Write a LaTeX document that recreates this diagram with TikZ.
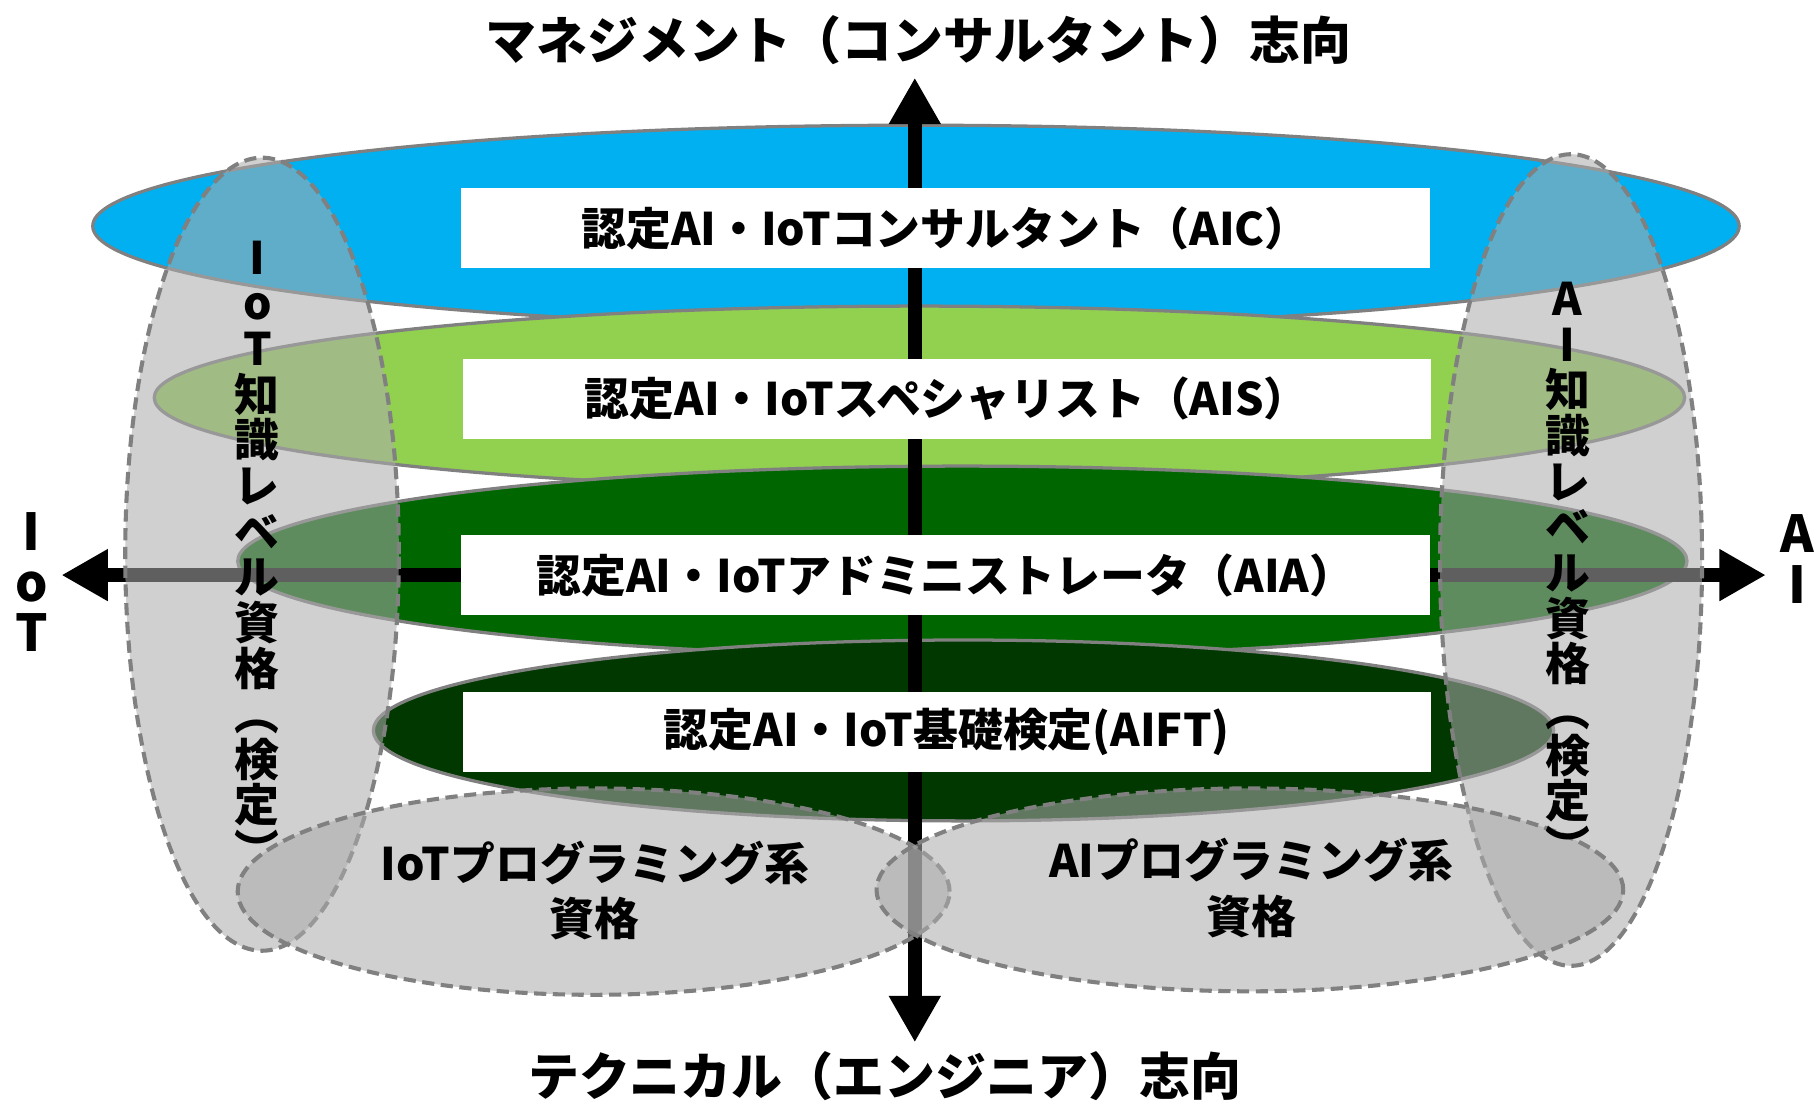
\documentclass[tikz,border=0pt]{standalone}
\usepackage{fontspec}
\setmainfont{Noto Sans CJK JP}
\usepackage{tikz}
\usetikzlibrary{arrows.meta}
\definecolor{aicblue}{RGB}{0,176,240}
\definecolor{aisgreen}{RGB}{146,208,80}
\definecolor{aiagreen}{RGB}{0,102,0}
\definecolor{aiftgreen}{RGB}{0,56,0}
\definecolor{rim}{RGB}{128,128,128}
\definecolor{fog}{RGB}{171,171,171}

\begin{document}
\begin{tikzpicture}[
  ring/.style={draw=rim, line width=0.8pt},
  haze/.style={fill=fog, fill opacity=0.56, draw=rim, line width=1pt, dash pattern=on 3pt off 1.6pt},
  axis/.style={line width=3.4pt, {Triangle[length=0.4cm,width=0.42cm]}-{Triangle[length=0.4cm,width=0.42cm]}},
  plate/.style={fill=white, minimum width=8.35cm, minimum height=0.69cm, inner sep=0pt, font=\fontsize{11}{12}\selectfont\bfseries},
  big/.style={inner sep=0pt, align=center, font=\fontsize{12.5}{12.5}\selectfont\bfseries},
  mid/.style={inner sep=0pt, align=center, font=\fontsize{11}{13.6}\selectfont\bfseries},
  col/.style={inner sep=0pt, align=center, font=\fontsize{11}{11.2}\selectfont\bfseries}
]
  \useasboundingbox (0,0) rectangle (15.68,9.55);
  \draw[ring, fill=aicblue] (7.90,7.60) ellipse [x radius=7.10, y radius=0.87];
  \draw[ring, fill=aisgreen] (7.93,6.12) ellipse [x radius=6.60, y radius=0.79];
  \draw[ring, fill=aiagreen] (8.30,4.71) ellipse [x radius=6.25, y radius=0.82];
  \draw[ring, fill=aiftgreen] (8.31,3.25) ellipse [x radius=5.09, y radius=0.78];
  \coordinate (upend) at (7.89,8.88);
  \coordinate (downend) at (7.89,0.56);
  \coordinate (iotend) at (0.53,4.59);
  \coordinate (aiend) at (15.23,4.59);
  \draw[axis] (downend) to (upend);
  \draw[axis] (iotend) to (aiend);
  \node[plate] (aic) at (8.155,7.58) {認定AI・IoTコンサルタント（AIC）};
  \node[plate] (ais) at (8.165,6.11) {認定AI・IoTスペシャリスト（AIS）};
  \node[plate] (aia) at (8.155,4.59) {認定AI・IoTアドミニストレータ（AIA）};
  \node[plate] (aift) at (8.165,3.24) {認定AI・IoT基礎検定(AIFT)};
  \draw[haze] (2.26,4.77) ellipse [x radius=1.18, y radius=3.42];
  \draw[haze] (13.55,4.72) ellipse [x radius=1.13, y radius=3.50];
  \draw[haze] (5.12,1.86) ellipse [x radius=3.07, y radius=0.89];
  \draw[haze] (10.78,1.875) ellipse [x radius=3.22, y radius=0.875];
  \node[col] (iotlevel) at (2.22,4.77) {I\\o\\T\\知\\識\\レ\\ベ\\ル\\資\\格\\︵\\検\\定\\︶};
  \node[col] (ailevel) at (13.52,4.61) {A\\I\\知\\識\\レ\\ベ\\ル\\資\\格\\︵\\検\\定\\︶};
  \node[mid] (iotprog) at (5.13,1.87) {IoTプログラミング系\\資格};
  \node[mid] (aiprog) at (10.79,1.89) {AIプログラミング系\\資格};
  \node[big] (mgmt) at (7.92,9.20) {マネジメント（コンサルタント）志向};
  \node[big] (tech) at (7.63,0.27) {テクニカル（エンジニア）志向};
  \node[big] (iotaxis) at (0.27,4.53) {I\\o\\T};
  \node[big] (aiaxis) at (15.50,4.73) {A\\I};
\end{tikzpicture}
\end{document}
